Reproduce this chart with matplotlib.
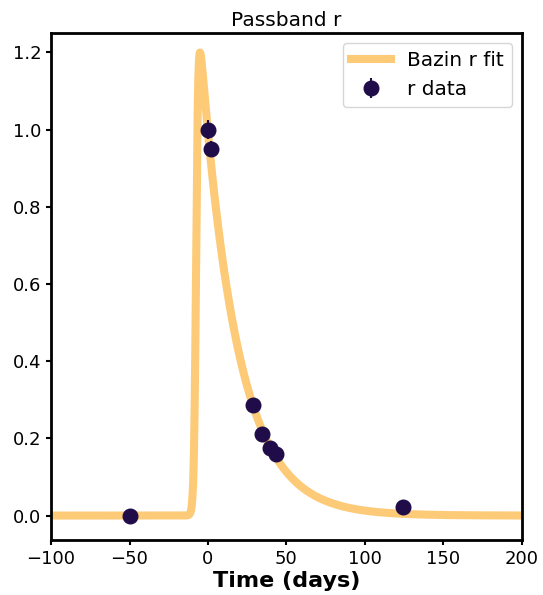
import numpy as np
import matplotlib
matplotlib.use("Agg")
import matplotlib.pyplot as plt

# r band observations
t_obs = [-49.5, 0.0, 1.7, 28.6, 34.4, 39.5, 43.4, 124.0]
flux_obs = [0.0, 1.0, 0.95, 0.287, 0.212, 0.176, 0.16, 0.021]
flux_err = [0.005, 0.025, 0.02, 0.01, 0.008, 0.008, 0.008, 0.006]

# Bazin fit parameters
A = 1.375
B = 0.0
t0 = -7.5
t_rise = 0.7
t_fall = 23.0

def bazin(t, A, B, t0, t_rise, t_fall):
    return A * np.exp(-(t - t0) / t_fall) / (1 + np.exp(-(t - t0) / t_rise)) + B

t_fit = np.linspace(-100, 200, 3000)
f_fit = bazin(t_fit, A, B, t0, t_rise, t_fall)

fig = plt.figure(figsize=(5.43, 5.95), dpi=100)
ax = fig.add_axes([0.094, 0.092, 0.867, 0.853])

ax.plot(t_fit, f_fit, color='#fdca77', lw=5.8, label='Bazin r fit', zorder=1)
ax.errorbar(t_obs, flux_obs, yerr=flux_err, fmt='o', color='#1f0c48',
            markersize=10.5, elinewidth=1.5, label='r data', zorder=2)

ax.set_xlim(-100, 200)
ax.set_ylim(-0.064, 1.251)
ax.set_yticks([0.0, 0.2, 0.4, 0.6, 0.8, 1.0, 1.2])
ax.set_xticks([-100, -50, 0, 50, 100, 150, 200])
ax.tick_params(labelsize=13, width=1.5)
for s in ax.spines.values():
    s.set_linewidth(2)

ax.set_xlabel('Time (days)', fontsize=16, fontweight='bold', labelpad=2)
ax.set_title('Passband r', fontsize=14.5, pad=5)
ax.legend(loc='upper right', fontsize=14.5)

fig.savefig('out.png', dpi=100)
